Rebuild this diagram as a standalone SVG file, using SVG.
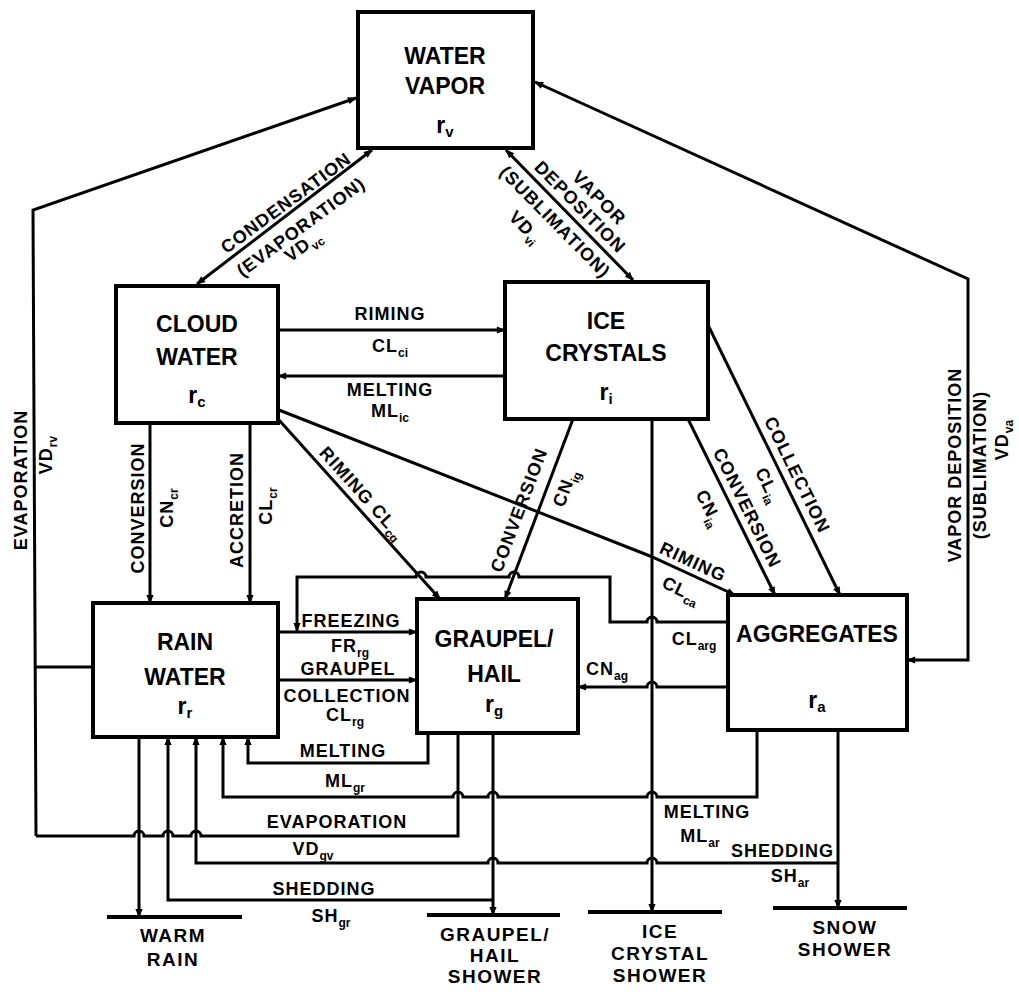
<svg xmlns="http://www.w3.org/2000/svg" width="1019" height="992" viewBox="0 0 1019 992">
<style>
.box{fill:#fff;stroke:#000;stroke-width:4}
.ln{fill:none;stroke:#000;stroke-width:3;stroke-linejoin:miter}
.bar{fill:none;stroke:#000;stroke-width:4}
text{font-family:"Liberation Sans",Arial,sans-serif;font-weight:bold;fill:#000}
.bl{font-size:23px;text-anchor:middle}
.cl{font-size:18px;letter-spacing:1px;text-anchor:middle}
.sk{font-size:19px;letter-spacing:1.5px;text-anchor:middle}
.sub{font-size:12px;letter-spacing:0}
.bsub{font-size:15px}
</style>
<defs>
<marker id="ah" viewBox="0 0 10 10" refX="9" refY="5" markerWidth="10" markerHeight="9" markerUnits="userSpaceOnUse" orient="auto-start-reverse"><path d="M0,1 L10,5 L0,9 z" fill="#000"/></marker>
</defs>
<rect width="1019" height="992" fill="#fff"/>

<g id="connectors">
<path class="ln" d="M197,284 L372,150" marker-start="url(#ah)" marker-end="url(#ah)"/>
<path class="ln" d="M506,150 L633,280" marker-start="url(#ah)" marker-end="url(#ah)"/>
<path class="ln" d="M907,660 L968,660 L968,279 L535,82" marker-start="url(#ah)" marker-end="url(#ah)"/>
<path class="ln" d="M36,836 L33,210 L356,98" marker-end="url(#ah)"/>
<path class="ln" d="M93,667 L35,667"/>
<path class="ln" d="M458,733 L458,836 L201,836 A5,5 0 0 0 191,836 L173,836 A5,5 0 0 0 163,836 L144,836 A5,5 0 0 0 134,836 L36,836"/>
<path class="ln" d="M278,330 L505,330" marker-end="url(#ah)"/>
<path class="ln" d="M505,376 L278,376" marker-end="url(#ah)"/>
<path class="ln" d="M150,423 L150,603" marker-end="url(#ah)"/>
<path class="ln" d="M250,423 L250,603" marker-end="url(#ah)"/>
<path class="ln" d="M279,420 L440,599" marker-end="url(#ah)"/>
<path class="ln" d="M279,410 L650,556 L735,595" marker-end="url(#ah)"/>
<path class="ln" d="M573,419 L505,599" marker-end="url(#ah)"/>
<path class="ln" d="M688,419 L775,595" marker-end="url(#ah)"/>
<path class="ln" d="M708,325 L840,595" marker-end="url(#ah)"/>
<path class="ln" d="M652,419 L652,912" marker-end="url(#ah)"/>
<path class="ln" d="M278,632 L417,632" marker-end="url(#ah)"/>
<path class="ln" d="M728,622 L657,622 A5,5 0 0 0 647,622 L610,622 L610,577 L519,577 A5,5 0 0 0 509,577 L426,577 A5,5 0 0 0 416,577 L297,577 L297,631" marker-end="url(#ah)"/>
<path class="ln" d="M278,680 L417,680" marker-end="url(#ah)"/>
<path class="ln" d="M728,687 L657,687 A5,5 0 0 0 647,687 L578,687" marker-end="url(#ah)"/>
<path class="ln" d="M428,733 L428,763 L248,763 L248,737" marker-end="url(#ah)"/>
<path class="ln" d="M757,730 L757,797 L657,797 A5,5 0 0 0 647,797 L498,797 A5,5 0 0 0 488,797 L463,797 A5,5 0 0 0 453,797 L223,797 L223,737" marker-end="url(#ah)"/>
<path class="ln" d="M838,863 L657,863 A5,5 0 0 0 647,863 L498,863 A5,5 0 0 0 488,863 L196,863 L196,737" marker-end="url(#ah)"/>
<path class="ln" d="M493,900 L168,900 L168,737" marker-end="url(#ah)"/>
<path class="ln" d="M493,733 L493,915" marker-end="url(#ah)"/>
<path class="ln" d="M139,737 L139,917" marker-end="url(#ah)"/>
<path class="ln" d="M838,730 L838,908" marker-end="url(#ah)"/>
</g>

<g id="connector-labels">
<text class="cl" transform="translate(286,203) rotate(-36.4)" y="6">CONDENSATION</text>
<text class="cl" transform="translate(301,227) rotate(-36.4)" y="6">(EVAPORATION)</text>
<text class="cl" transform="translate(303,246) rotate(-36.4)" y="6">VD<tspan class="sub" dy="5">vc</tspan></text>
<text class="cl" transform="translate(599,198) rotate(45.4)" y="6">VAPOR</text>
<text class="cl" transform="translate(580,207) rotate(45.4)" y="6">DEPOSITION</text>
<text class="cl" transform="translate(555,222) rotate(45.4)" y="6">(SUBLIMATION)</text>
<text class="cl" transform="translate(525,227) rotate(45.4)" y="6">VD<tspan class="sub" dy="5">vi</tspan></text>
<text class="cl" x="390" y="320">RIMING</text>
<text class="cl" x="390" y="352">CL<tspan class="sub" dy="5">ci</tspan></text>
<text class="cl" x="390" y="396">MELTING</text>
<text class="cl" x="390" y="417">ML<tspan class="sub" dy="5">ic</tspan></text>
<text class="cl" transform="translate(138,508) rotate(-90)" y="6">CONVERSION</text>
<text class="cl" transform="translate(167,508) rotate(-90)" y="6">CN<tspan class="sub" dy="5">cr</tspan></text>
<text class="cl" transform="translate(237,510) rotate(-90)" y="6">ACCRETION</text>
<text class="cl" transform="translate(266,506) rotate(-90)" y="6">CL<tspan class="sub" dy="5">cr</tspan></text>
<text class="cl" transform="translate(362,493) rotate(47.9)" y="6">RIMING CL<tspan class="sub" dy="5">cg</tspan></text>
<text class="cl" transform="translate(519,510) rotate(-69.3)" y="6">CONVERSION</text>
<text class="cl" transform="translate(565,488) rotate(-69.3)" y="6">CN<tspan class="sub" dy="5">ig</tspan></text>
<text class="cl" transform="translate(747,508) rotate(63.7)" y="6">CONVERSION</text>
<text class="cl" transform="translate(709,508) rotate(63.7)" y="6">CN<tspan class="sub" dy="5">ia</tspan></text>
<text class="cl" transform="translate(797,475) rotate(63.9)" y="6">COLLECTION</text>
<text class="cl" transform="translate(768,485) rotate(63.9)" y="6">CL<tspan class="sub" dy="5">ia</tspan></text>
<text class="cl" transform="translate(693,562) rotate(25)" y="6">RIMING</text>
<text class="cl" transform="translate(681,590) rotate(25)" y="6">CL<tspan class="sub" dy="5">ca</tspan></text>
<text class="cl" transform="translate(21,480) rotate(-90)" y="6">EVAPORATION</text>
<text class="cl" transform="translate(46,455) rotate(-90)" y="6">VD<tspan class="sub" dy="5">rv</tspan></text>
<text class="cl" transform="translate(955,465) rotate(-90)" y="6">VAPOR DEPOSITION</text>
<text class="cl" transform="translate(980,465) rotate(-90)" y="6">(SUBLIMATION)</text>
<text class="cl" transform="translate(1002,440) rotate(-90)" y="6">VD<tspan class="sub" dy="5">va</tspan></text>
<text class="cl" x="351" y="627">FREEZING</text>
<text class="cl" x="350" y="652">FR<tspan class="sub" dy="5">rg</tspan></text>
<text class="cl" x="348" y="675">GRAUPEL</text>
<text class="cl" x="347" y="702">COLLECTION</text>
<text class="cl" x="345" y="721">CL<tspan class="sub" dy="5">rg</tspan></text>
<text class="cl" x="694" y="645">CL<tspan class="sub" dy="5">arg</tspan></text>
<text class="cl" x="607" y="675">CN<tspan class="sub" dy="5">ag</tspan></text>
<text class="cl" x="343" y="757">MELTING</text>
<text class="cl" x="345" y="787">ML<tspan class="sub" dy="5">gr</tspan></text>
<text class="cl" x="337" y="828">EVAPORATION</text>
<text class="cl" x="313" y="855">VD<tspan class="sub" dy="5">gv</tspan></text>
<text class="cl" x="324" y="895">SHEDDING</text>
<text class="cl" x="331" y="922">SH<tspan class="sub" dy="5">gr</tspan></text>
<text class="cl" x="707" y="818">MELTING</text>
<text class="cl" x="700" y="842">ML<tspan class="sub" dy="5">ar</tspan></text>
<text class="cl" x="834" y="857" style="text-anchor:end">SHEDDING</text>
<text class="cl" x="790" y="882">SH<tspan class="sub" dy="5">ar</tspan></text>
</g>

<g id="water-vapor">
<rect class="box" x="358" y="12" width="175" height="136"/>
<text class="bl" x="445" y="64">WATER</text>
<text class="bl" x="445" y="94">VAPOR</text>
<text class="bl" x="445" y="133">r<tspan class="bsub" dy="4">v</tspan></text>
</g>
<g id="cloud-water">
<rect class="box" x="116" y="286" width="162" height="137"/>
<text class="bl" x="197" y="332">CLOUD</text>
<text class="bl" x="197" y="365">WATER</text>
<text class="bl" x="197" y="403">r<tspan class="bsub" dy="4">c</tspan></text>
</g>
<g id="ice-crystals">
<rect class="box" x="505" y="282" width="203" height="137"/>
<text class="bl" x="606" y="329">ICE</text>
<text class="bl" x="606" y="361">CRYSTALS</text>
<text class="bl" x="606" y="400">r<tspan class="bsub" dy="4">i</tspan></text>
</g>
<g id="rain-water">
<rect class="box" x="93" y="603" width="185" height="134"/>
<text class="bl" x="185" y="650">RAIN</text>
<text class="bl" x="185" y="685">WATER</text>
<text class="bl" x="185" y="714">r<tspan class="bsub" dy="4">r</tspan></text>
</g>
<g id="graupel-hail">
<rect class="box" x="417" y="599" width="161" height="134"/>
<text class="bl" x="494" y="647">GRAUPEL/</text>
<text class="bl" x="494" y="682">HAIL</text>
<text class="bl" x="494" y="712">r<tspan class="bsub" dy="4">g</tspan></text>
</g>
<g id="aggregates">
<rect class="box" x="728" y="595" width="179" height="135"/>
<text class="bl" x="817" y="642">AGGREGATES</text>
<text class="bl" x="817" y="708">r<tspan class="bsub" dy="4">a</tspan></text>
</g>

<g id="warm-rain">
<path class="bar" d="M107,917 L242,917"/>
<text class="sk" x="173" y="942">WARM</text>
<text class="sk" x="173" y="966">RAIN</text>
</g>
<g id="graupel-hail-shower">
<path class="bar" d="M427,915 L560,915"/>
<text class="sk" x="495" y="941">GRAUPEL/</text>
<text class="sk" x="495" y="962">HAIL</text>
<text class="sk" x="495" y="983">SHOWER</text>
</g>
<g id="ice-crystal-shower">
<path class="bar" d="M588,912 L722,912"/>
<text class="sk" x="660" y="938">ICE</text>
<text class="sk" x="660" y="960">CRYSTAL</text>
<text class="sk" x="660" y="982">SHOWER</text>
</g>
<g id="snow-shower">
<path class="bar" d="M773,908 L907,908"/>
<text class="sk" x="845" y="934">SNOW</text>
<text class="sk" x="845" y="956">SHOWER</text>
</g>
</svg>
